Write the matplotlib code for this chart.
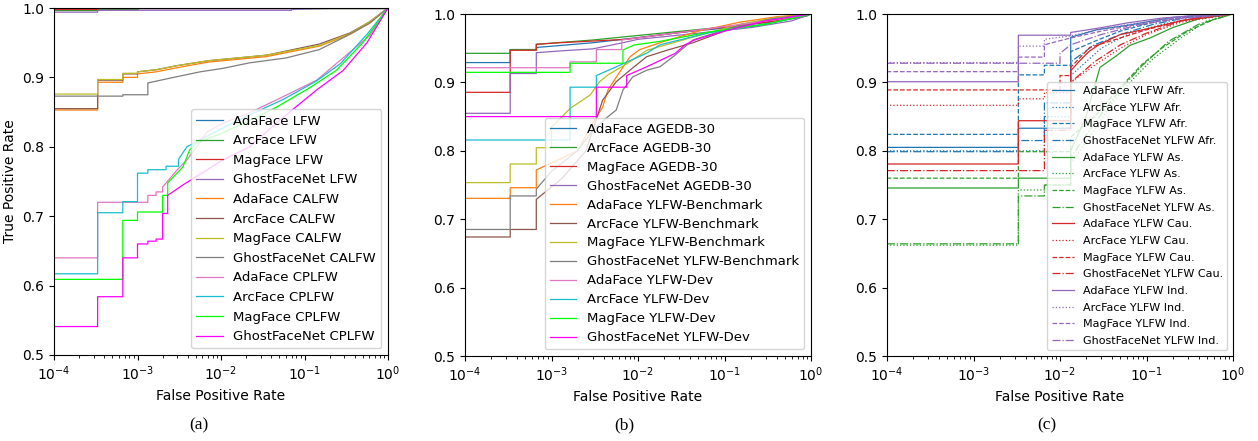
import matplotlib.pyplot as plt

# ROC vertices (fpr, tpr); repeated fpr values give the vertical steps

# ---- panel (a): LFW / CALFW / CPLFW ----
a_labels = ['AdaFace LFW', 'ArcFace LFW', 'MagFace LFW', 'GhostFaceNet LFW',
            'AdaFace CALFW', 'ArcFace CALFW', 'MagFace CALFW', 'GhostFaceNet CALFW',
            'AdaFace CPLFW', 'ArcFace CPLFW', 'MagFace CPLFW', 'GhostFaceNet CPLFW']
calfw_fpr = [0, 3.33e-4, 3.33e-4, 6.67e-4, 6.67e-4, 1e-3, 1e-3, 1.67e-3, 3e-3, 7e-3,
             0.035, 0.15, 0.35, 0.6, 1]
a_fpr = [
    [0, 3.33e-4, 3.33e-4, 1],
    [0, 3.33e-4, 3.33e-4, 1e-3, 1e-3, 1],
    [0, 3.33e-4, 3.33e-4, 1],
    [0, 3.33e-4, 3.33e-4, 0.07, 0.07, 0.3, 1],
    calfw_fpr,
    calfw_fpr,
    calfw_fpr,
    [0, 6.67e-4, 6.67e-4, 1.33e-3, 1.33e-3, 2.7e-3, 5.6e-3, 0.0105, 0.022, 0.06, 0.15, 0.3, 0.6, 1],
    [0, 3.33e-4, 3.33e-4, 1.33e-3, 1.33e-3, 1.67e-3, 1.67e-3, 2e-3, 2e-3, 3e-3, 3.9e-3, 5.1e-3,
     6.8e-3, 0.0105, 0.022, 0.055, 0.14, 0.27, 0.6, 1],
    [0, 3.33e-4, 3.33e-4, 6.67e-4, 6.67e-4, 1e-3, 1e-3, 1.33e-3, 1.33e-3, 2.2e-3, 2.2e-3, 3.1e-3,
     3.1e-3, 3.9e-3, 5.6e-3, 0.0105, 0.022, 0.055, 0.14, 0.27, 0.56, 1],
    [0, 6.67e-4, 6.67e-4, 1e-3, 1e-3, 2e-3, 2e-3, 2.3e-3, 2.3e-3, 3.5e-3, 4.2e-3, 5e-3, 0.0105,
     0.022, 0.046, 0.115, 0.24, 0.5, 1],
    [0, 3.33e-4, 3.33e-4, 6.67e-4, 6.67e-4, 1e-3, 1e-3, 1.33e-3, 1.33e-3, 1.67e-3, 1.67e-3, 2e-3,
     2e-3, 2.3e-3, 2.3e-3, 3.5e-3, 0.0105, 0.022, 0.055, 0.14, 0.29, 0.56, 1],
]
a_tpr = [
    [0.998, 0.998, 1.0, 1.0],
    [0.9967, 0.9967, 0.999, 0.999, 1.0, 1.0],
    [0.999, 0.999, 1.0, 1.0],
    [0.994, 0.994, 0.9967, 0.9967, 0.998, 1.0, 1.0],
    [0.853, 0.853, 0.893, 0.893, 0.900, 0.900, 0.905, 0.908, 0.914, 0.922, 0.930, 0.945, 0.962, 0.978, 1.0],
    [0.855, 0.855, 0.896, 0.896, 0.905, 0.905, 0.908, 0.911, 0.917, 0.924, 0.932, 0.948, 0.964, 0.980, 1.0],
    [0.876, 0.876, 0.897, 0.897, 0.906, 0.906, 0.908, 0.911, 0.917, 0.924, 0.932, 0.946, 0.963, 0.980, 1.0],
    [0.873, 0.873, 0.875, 0.875, 0.892, 0.900, 0.908, 0.913, 0.921, 0.928, 0.940, 0.958, 0.978, 1.0],
    [0.640, 0.640, 0.720, 0.720, 0.730, 0.730, 0.735, 0.735, 0.742, 0.767, 0.781, 0.800,
     0.821, 0.834, 0.849, 0.872, 0.896, 0.925, 0.960, 1.0],
    [0.617, 0.617, 0.705, 0.705, 0.721, 0.721, 0.762, 0.762, 0.767, 0.767, 0.772, 0.772,
     0.782, 0.800, 0.810, 0.827, 0.846, 0.868, 0.895, 0.920, 0.962, 1.0],
    [0.609, 0.609, 0.694, 0.694, 0.706, 0.706, 0.730, 0.730, 0.748, 0.771, 0.795, 0.805, 0.820,
     0.838, 0.857, 0.885, 0.910, 0.950, 1.0],
    [0.541, 0.541, 0.584, 0.584, 0.640, 0.640, 0.660, 0.660, 0.664, 0.664, 0.667, 0.667,
     0.704, 0.704, 0.730, 0.745, 0.781, 0.800, 0.842, 0.882, 0.910, 0.950, 1.0],
]

# ---- panel (b): AGEDB-30 / YLFW-Benchmark / YLFW-Dev ----
b_labels = ['AdaFace AGEDB-30', 'ArcFace AGEDB-30', 'MagFace AGEDB-30', 'GhostFaceNet AGEDB-30',
            'AdaFace YLFW-Benchmark', 'ArcFace YLFW-Benchmark', 'MagFace YLFW-Benchmark',
            'GhostFaceNet YLFW-Benchmark',
            'AdaFace YLFW-Dev', 'ArcFace YLFW-Dev', 'MagFace YLFW-Dev', 'GhostFaceNet YLFW-Dev']
b_fpr = [
    [0, 3.33e-4, 3.33e-4, 6.67e-4, 6.67e-4, 3e-3, 6.7e-3, 0.043, 0.26, 1],
    [0, 3.33e-4, 3.33e-4, 6.67e-4, 6.67e-4, 3e-3, 0.018, 0.107, 0.4, 0.9, 1],
    [0, 3.33e-4, 3.33e-4, 6.67e-4, 6.67e-4, 1.25e-3, 7.4e-3, 0.03, 0.12, 0.4, 1],
    [0, 3.33e-4, 3.33e-4, 6.67e-4, 6.67e-4, 1.25e-3, 3e-3, 6.7e-3, 0.01, 0.05, 0.2, 0.6, 1],
    [0, 3.33e-4, 3.33e-4, 6.67e-4, 6.67e-4, 2e-3, 3e-3, 3.9e-3, 4.5e-3, 6.2e-3, 8.1e-3, 0.0105,
     0.02, 0.05, 0.15, 0.4, 1],
    [0, 3.33e-4, 3.33e-4, 6.67e-4, 6.67e-4, 1.33e-3, 2.5e-3, 3.9e-3, 5.6e-3, 8.1e-3, 0.0126,
     0.0216, 0.0432, 0.1, 0.3, 1],
    [0, 3.33e-4, 3.33e-4, 6.67e-4, 6.67e-4, 1e-3, 1e-3, 1.33e-3, 1.64e-3, 2.8e-3, 3.6e-3, 4.5e-3,
     7.6e-3, 0.0127, 0.04, 0.15, 0.4, 1],
    [0, 3.33e-4, 3.33e-4, 6.67e-4, 6.67e-4, 1e-3, 2e-3, 3e-3, 4.5e-3, 5.6e-3, 6.7e-3, 8.7e-3,
     0.0127, 0.018, 0.0255, 0.0432, 0.12, 0.35, 1],
    [0, 1.64e-3, 1.64e-3, 3.3e-3, 3.3e-3, 6.5e-3, 6.5e-3, 0.02, 0.08, 0.3, 1],
    [0, 1.64e-3, 1.64e-3, 3.3e-3, 3.3e-3, 5e-3, 0.0125, 0.018, 0.068, 0.3, 1],
    [0, 1.64e-3, 1.64e-3, 6.7e-3, 6.7e-3, 9e-3, 0.018, 0.068, 0.3, 1],
    [0, 3.3e-3, 3.3e-3, 7.4e-3, 7.4e-3, 0.0127, 0.018, 0.027, 0.035, 0.045, 0.1, 0.3, 1],
]
b_tpr = [
    [0.929, 0.929, 0.948, 0.948, 0.951, 0.958, 0.963, 0.975, 0.984, 1.0],
    [0.9425, 0.9425, 0.948, 0.948, 0.9557, 0.962, 0.9718, 0.9814, 0.9889, 0.997, 1.0],
    [0.8855, 0.8855, 0.947, 0.947, 0.9557, 0.958, 0.963, 0.973, 0.982, 0.990, 1.0],
    [0.8548, 0.8548, 0.913, 0.913, 0.9434, 0.946, 0.949, 0.958, 0.963, 0.972, 0.980, 0.990, 1.0],
    [0.7305, 0.7305, 0.746, 0.746, 0.772, 0.800, 0.840, 0.864, 0.889, 0.916, 0.9376, 0.948,
     0.960, 0.975, 0.988, 0.996, 1.0],
    [0.674, 0.674, 0.685, 0.685, 0.729, 0.760, 0.800, 0.874, 0.901, 0.918, 0.9376,
     0.947, 0.958, 0.975, 0.990, 1.0],
    [0.7535, 0.7535, 0.7807, 0.7807, 0.8045, 0.8045, 0.835, 0.850, 0.862, 0.8816, 0.901, 0.911,
     0.928, 0.947, 0.965, 0.985, 0.995, 1.0],
    [0.685, 0.685, 0.734, 0.734, 0.744, 0.770, 0.800, 0.830, 0.850, 0.8596, 0.889, 0.908,
     0.918, 0.923, 0.9376, 0.962, 0.980, 0.993, 1.0],
    [0.9215, 0.9215, 0.930, 0.930, 0.948, 0.948, 0.962, 0.970, 0.980, 0.990, 1.0],
    [0.8158, 0.8158, 0.893, 0.893, 0.910, 0.920, 0.9425, 0.955, 0.973, 0.985, 1.0],
    [0.9147, 0.9147, 0.928, 0.928, 0.9474, 0.9547, 0.960, 0.974, 0.985, 1.0],
    [0.850, 0.850, 0.893, 0.893, 0.910, 0.923, 0.932, 0.9425, 0.955, 0.962, 0.975, 0.990, 1.0],
]

# ---- panel (c): YLFW per ethnicity ----
c_labels = ['AdaFace YLFW Afr.', 'ArcFace YLFW Afr.', 'MagFace YLFW Afr.', 'GhostFaceNet YLFW Afr.',
            'AdaFace YLFW As.', 'ArcFace YLFW As.', 'MagFace YLFW As.', 'GhostFaceNet YLFW As.',
            'AdaFace YLFW Cau.', 'ArcFace YLFW Cau.', 'MagFace YLFW Cau.', 'GhostFaceNet YLFW Cau.',
            'AdaFace YLFW Ind.', 'ArcFace YLFW Ind.', 'MagFace YLFW Ind.', 'GhostFaceNet YLFW Ind.']
c_fpr = [
    [0, 3.3e-3, 3.3e-3, 0.0133, 0.0133, 0.0266, 0.064, 0.2, 0.5, 1],
    [0, 6.6e-3, 6.6e-3, 0.0133, 0.0133, 0.02, 0.03, 0.06, 0.15, 0.4, 1],
    [0, 3.3e-3, 3.3e-3, 6.6e-3, 6.6e-3, 0.0133, 0.0133, 0.025, 0.05, 0.12, 0.3, 1],
    [0, 3.3e-3, 3.3e-3, 6.6e-3, 6.6e-3, 0.0133, 0.0133, 0.025, 0.05, 0.12, 0.3, 1],
    [0, 3.3e-3, 3.3e-3, 0.0133, 0.0133, 0.02, 0.029, 0.045, 0.064, 0.11, 0.2, 0.4, 1],
    [0, 3.3e-3, 3.3e-3, 6.6e-3, 6.6e-3, 0.0133, 0.0133, 0.025, 0.04, 0.07, 0.12, 0.25, 0.5, 1],
    [0, 3.3e-3, 3.3e-3, 0.0133, 0.0133, 0.025, 0.04, 0.09, 0.15, 0.3, 0.6, 1],
    [0, 3.3e-3, 3.3e-3, 6.6e-3, 6.6e-3, 0.0133, 0.0133, 0.025, 0.05, 0.09, 0.18, 0.4, 1],
    [0, 3.3e-3, 3.3e-3, 0.0133, 0.0133, 0.017, 0.022, 0.029, 0.05, 0.091, 0.25, 0.5, 1],
    [0, 3.3e-3, 3.3e-3, 6.6e-3, 6.6e-3, 0.0133, 0.0133, 0.025, 0.05, 0.1, 0.25, 1],
    [0, 0.01, 0.01, 0.0133, 0.0133, 0.022, 0.05, 0.1, 0.25, 1],
    [0, 6.6e-3, 6.6e-3, 0.0133, 0.0133, 0.025, 0.05, 0.1, 0.25, 1],
    [0, 3.3e-3, 3.3e-3, 0.0133, 0.0133, 0.03, 0.06, 0.15, 0.4, 1],
    [0, 3.3e-3, 3.3e-3, 6.6e-3, 6.6e-3, 0.0133, 0.03, 0.08, 0.2, 1],
    [0, 3.3e-3, 3.3e-3, 6.6e-3, 6.6e-3, 0.0133, 0.03, 0.08, 0.2, 1],
    [0, 0.01, 0.01, 0.0133, 0.03, 0.08, 0.2, 1],
]
c_tpr = [
    [0.805, 0.805, 0.833, 0.833, 0.966, 0.977, 0.984, 0.995, 0.999, 1.0],
    [0.800, 0.800, 0.850, 0.850, 0.910, 0.930, 0.950, 0.970, 0.985, 0.995, 1.0],
    [0.824, 0.824, 0.911, 0.911, 0.925, 0.925, 0.945, 0.960, 0.975, 0.988, 0.996, 1.0],
    [0.7987, 0.7987, 0.815, 0.815, 0.870, 0.870, 0.930, 0.955, 0.970, 0.985, 0.995, 1.0],
    [0.7456, 0.7456, 0.760, 0.760, 0.800, 0.850, 0.922, 0.939, 0.954, 0.965, 0.980, 0.993, 1.0],
    [0.662, 0.662, 0.7427, 0.7427, 0.750, 0.750, 0.780, 0.830, 0.870, 0.905, 0.935, 0.965, 0.990, 1.0],
    [0.760, 0.760, 0.7987, 0.7987, 0.820, 0.850, 0.880, 0.927, 0.950, 0.975, 0.992, 1.0],
    [0.664, 0.664, 0.734, 0.734, 0.750, 0.750, 0.790, 0.840, 0.890, 0.925, 0.960, 0.985, 1.0],
    [0.7807, 0.7807, 0.844, 0.844, 0.917, 0.932, 0.946, 0.956, 0.970, 0.977, 0.990, 0.997, 1.0],
    [0.8665, 0.8665, 0.876, 0.876, 0.885, 0.885, 0.900, 0.925, 0.950, 0.970, 0.988, 1.0],
    [0.889, 0.889, 0.910, 0.910, 0.922, 0.951, 0.965, 0.977, 0.990, 1.0],
    [0.771, 0.771, 0.830, 0.830, 0.900, 0.930, 0.955, 0.972, 0.990, 1.0],
    [0.901, 0.901, 0.969, 0.969, 0.973, 0.980, 0.987, 0.994, 0.998, 1.0],
    [0.929, 0.929, 0.953, 0.953, 0.963, 0.968, 0.978, 0.987, 0.994, 1.0],
    [0.9157, 0.9157, 0.937, 0.937, 0.955, 0.965, 0.975, 0.985, 0.993, 1.0],
    [0.928, 0.928, 0.9425, 0.955, 0.970, 0.984, 0.992, 1.0],
]

ab_colors = ['tab:blue', 'tab:green', 'tab:red', 'tab:purple',
             'tab:orange', 'tab:brown', 'tab:olive', 'tab:gray',
             'tab:pink', 'tab:cyan', 'lime', 'magenta']
c_colors = ['tab:blue', 'tab:green', 'tab:red', 'tab:purple']
c_styles = ['-', ':', '--', '-.']


def setup_axes(ax):
    ax.set_xscale('log')
    ax.set_xlim(1e-4, 1)
    ax.set_ylim(0.5, 1.0)
    ax.set_yticks([0.5, 0.6, 0.7, 0.8, 0.9, 1.0])
    ax.tick_params(labelsize=10)
    ax.set_xlabel('False Positive Rate', fontsize=10)


fig = plt.figure(figsize=(12.58, 4.41), dpi=100)
ax_a = fig.add_axes([54 / 1258, 86 / 441, 334 / 1258, 347 / 441])
ax_b = fig.add_axes([465 / 1258, 85 / 441, 346 / 1258, 342 / 441])
ax_c = fig.add_axes([887 / 1258, 85 / 441, 346 / 1258, 342 / 441])

for i, lab in enumerate(a_labels):
    ax_a.plot(a_fpr[i], a_tpr[i], color=ab_colors[i], lw=0.9, label=lab)
for i, lab in enumerate(b_labels):
    ax_b.plot(b_fpr[i], b_tpr[i], color=ab_colors[i], lw=0.9, label=lab)
for i, lab in enumerate(c_labels):
    ax_c.plot(c_fpr[i], c_tpr[i], color=c_colors[i // 4], ls=c_styles[i % 4], lw=0.9, label=lab)

for ax in (ax_a, ax_b, ax_c):
    setup_axes(ax)
ax_a.set_ylabel('True Positive Rate', fontsize=10)

ax_a.legend(loc='lower right', fontsize=9.5)
ax_b.legend(loc='lower right', fontsize=9.5, labelspacing=0.45)
ax_c.legend(loc='lower right', fontsize=8, labelspacing=0.6)

for x, txt in [(199, '(a)'), (624, '(b)'), (1047, '(c)')]:
    fig.text(x / 1258, 1 - 425 / 441, txt, ha='center', va='center',
             fontsize=12.5, family='Liberation Serif')

fig.savefig('out.png', dpi=100)
